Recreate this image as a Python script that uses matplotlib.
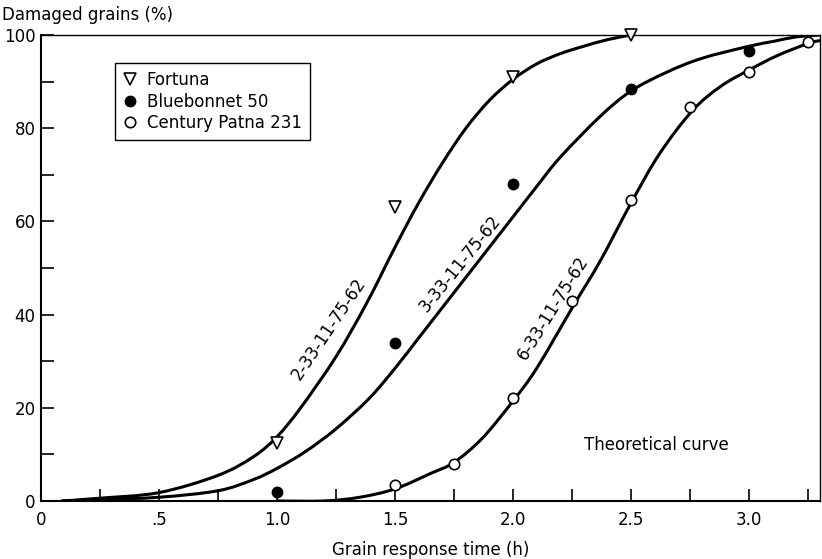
import matplotlib
matplotlib.use("Agg")
import matplotlib.pyplot as plt
from matplotlib.path import Path
from matplotlib.patches import PathPatch

# measured points
fortuna_x = [1.0, 1.5, 2.0, 2.5]
fortuna_y = [12.5, 63, 91, 100]
blue_x = [1.0, 1.5, 2.0, 2.5, 3.0]
blue_y = [2, 34, 68, 88.5, 96.5]
patna_x = [1.5, 1.75, 2.0, 2.25, 2.5, 2.75, 3.0, 3.25]
patna_y = [3.5, 8, 22, 43, 64.5, 84.5, 92, 98.5]

# theoretical curves
c2_x = [0.09, 0.25, 0.5, 0.75, 0.9, 1.0, 1.1, 1.25, 1.38, 1.5, 1.6, 1.7, 1.8, 1.9, 2.0, 2.1, 2.2, 2.3, 2.4, 2.5]
c2_y = [0, 0.6, 1.8, 5.5, 9.5, 13.8, 20, 31, 42.5, 54.5, 64, 72.5, 80, 86, 90.5, 93.8, 96, 97.6, 99, 100]
c3_x = [0.09, 0.25, 0.5, 0.75, 0.9, 1.0, 1.12, 1.25, 1.39, 1.5, 1.6, 1.7, 1.8, 1.9, 2.0, 2.1, 2.2, 2.37, 2.5, 2.65, 2.8, 3.0, 3.1, 3.2, 3.3]
c3_y = [0, 0.3, 0.8, 2.2, 4.6, 7.0, 10.6, 15.5, 22, 28.5, 35, 41.5, 48, 54.5, 61, 67.5, 73.8, 82.6, 88.0, 92, 95.0, 97.6, 98.6, 99.6, 100]
c6_x = [1.0, 1.2, 1.35, 1.5, 1.65, 1.75, 1.87, 2.0, 2.1, 2.26, 2.37, 2.5, 2.62, 2.76, 2.88, 3.0, 3.12, 3.25, 3.3]
c6_y = [0, 0, 0.8, 2.6, 5.9, 8.3, 13.5, 21.5, 28.5, 42.3, 51.6, 64, 74.5, 83.8, 89.0, 92.5, 95.6, 98.2, 98.8]

curve_labels = ["2-33-11-75-62", "3-33-11-75-62", "6-33-11-75-62"]
x_ticks = [0, 0.5, 1.0, 1.5, 2.0, 2.5, 3.0]
x_ticklabels = ["0", ".5", "1.0", "1.5", "2.0", "2.5", "3.0"]
y_ticks = [0, 20, 40, 60, 80, 100]


def smooth_path(xs, ys):
    # catmull-rom control points -> cubic bezier path through the read points
    pts = list(zip(xs, ys))
    verts = [pts[0]]
    codes = [Path.MOVETO]
    n = len(pts)
    for i in range(n - 1):
        p0 = pts[i - 1] if i > 0 else pts[i]
        p1 = pts[i]
        p2 = pts[i + 1]
        p3 = pts[i + 2] if i + 2 < n else pts[i + 1]
        c1 = (p1[0] + (p2[0] - p0[0]) / 6, p1[1] + (p2[1] - p0[1]) / 6)
        c2 = (p2[0] - (p3[0] - p1[0]) / 6, p2[1] - (p3[1] - p1[1]) / 6)
        verts += [c1, c2, p2]
        codes += [Path.CURVE4] * 3
    return Path(verts, codes)


plt.rcParams["font.family"] = "DejaVu Sans"

fig = plt.figure(figsize=(8.22, 5.59), dpi=100)
ax = fig.add_axes([0.0499, 0.1038, 0.9477, 0.8336])

for cx, cy in [(c2_x, c2_y), (c3_x, c3_y), (c6_x, c6_y)]:
    ax.add_patch(PathPatch(smooth_path(cx, cy), fill=False, edgecolor="black",
                           lw=2.2, capstyle="round", zorder=2))

ax.plot(fortuna_x, fortuna_y, "v", ms=8, mfc="white", mec="black", mew=1.2,
        ls="none", label="Fortuna", zorder=3, clip_on=False)
ax.plot(blue_x, blue_y, "o", ms=7.5, mfc="black", mec="black",
        ls="none", label="Bluebonnet 50", zorder=3, clip_on=False)
ax.plot(patna_x, patna_y, "o", ms=7.5, mfc="white", mec="black", mew=1.2,
        ls="none", label="Century Patna 231", zorder=3, clip_on=False)

# curve labels
ax.text(1.22, 37, curve_labels[0], rotation=56, ha="center", va="center", fontsize=12)
ax.text(1.775, 51, curve_labels[1], rotation=51, ha="center", va="center", fontsize=12)
ax.text(2.17, 41.5, curve_labels[2], rotation=58, ha="center", va="center", fontsize=12)
ax.text(2.605, 12, "Theoretical curve", ha="center", va="center", fontsize=12)

ax.set_xlim(0, 3.3)
ax.set_ylim(0, 100)
ax.set_xticks(x_ticks)
ax.set_xticklabels(x_ticklabels)
ax.set_xticks([0.25 * k for k in range(14)], minor=True)
ax.set_yticks(y_ticks)
ax.set_yticks(range(0, 101, 10), minor=True)
ax.tick_params(which="both", direction="in", width=1.2, labelsize=12)
ax.tick_params(axis="x", which="both", length=9, pad=7)
ax.tick_params(axis="y", which="both", length=9, pad=4)
for s in ["left", "bottom"]:
    ax.spines[s].set_linewidth(1.5)
for s in ["top", "right"]:
    ax.spines[s].set_linewidth(1.0)

ax.set_xlabel("Grain response time (h)", fontsize=12, labelpad=9)
fig.text(0.003, 0.99, "Damaged grains (%)", ha="left", va="top", fontsize=12)

leg = ax.legend(loc="upper left", bbox_to_anchor=(0.095, 0.94), borderaxespad=0,
                fancybox=False, edgecolor="black", framealpha=1, fontsize=12,
                handlelength=0.8, handletextpad=0.6, labelspacing=0.2,
                borderpad=0.5)
leg.get_frame().set_linewidth(1.0)

plt.savefig("out.png", dpi=100)
